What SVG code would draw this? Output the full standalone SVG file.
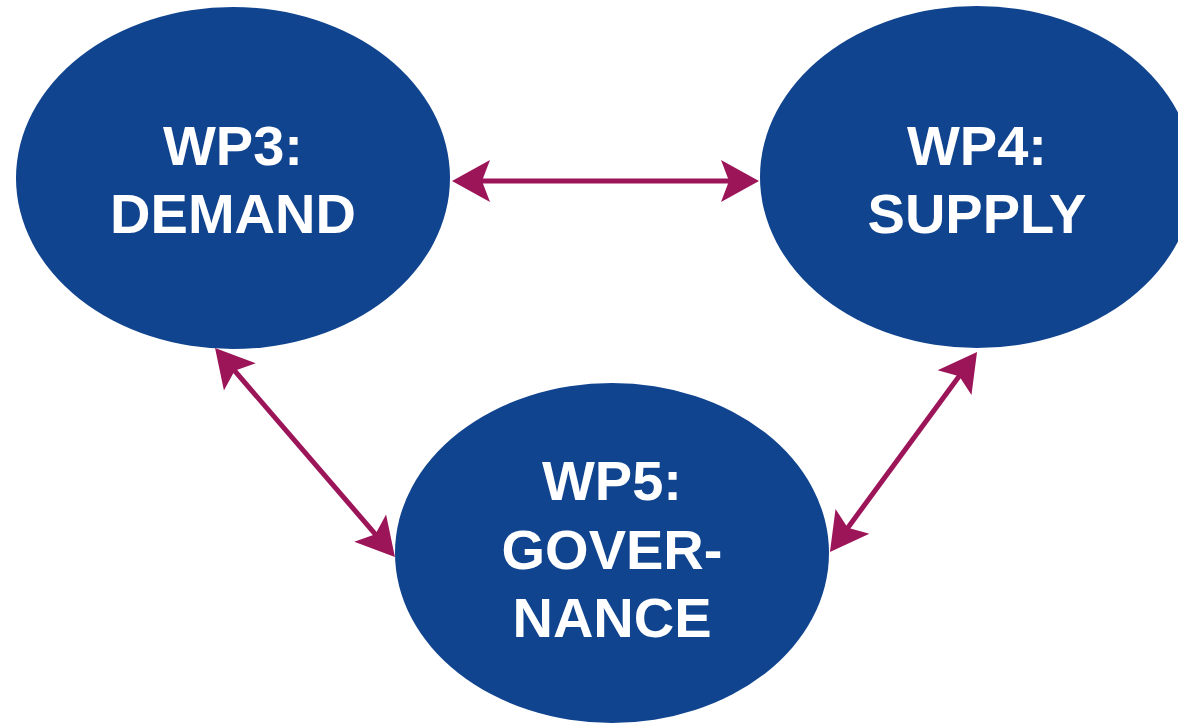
<svg xmlns="http://www.w3.org/2000/svg" width="1178" height="725" viewBox="0 0 1178 725">
<style>
.node{fill:#10448F}
.lbl{font-family:"Liberation Sans",Arial,sans-serif;font-weight:bold;font-size:56px;fill:#ffffff;text-anchor:middle}
.conn{stroke:#9C1559;stroke-width:5;fill:none;marker-start:url(#ah);marker-end:url(#ah)}
</style>
<defs>
<marker id="ah" markerUnits="userSpaceOnUse" viewBox="-20 -22 42 44" markerWidth="42" markerHeight="44" refX="0" refY="0" orient="auto-start-reverse">
<path d="M20,0 L-18,-21 L-10,0 L-18,21 Z" fill="#9C1559"/>
</marker>
</defs>
<rect width="1178" height="725" fill="#ffffff"/>
<g id="wp3">
<ellipse class="node" cx="233" cy="178" rx="217" ry="171"/>
<text class="lbl" x="233" y="165">WP3:</text>
<text class="lbl" x="233" y="233">DEMAND</text>
</g>
<g id="wp4">
<ellipse class="node" cx="977" cy="177" rx="217" ry="171"/>
<text class="lbl" x="977" y="165">WP4:</text>
<text class="lbl" x="977" y="233">SUPPLY</text>
</g>
<g id="wp5">
<ellipse class="node" cx="612" cy="553" rx="217" ry="170"/>
<text class="lbl" x="612" y="500">WP5:</text>
<text class="lbl" x="612" y="569">GOVER-</text>
<text class="lbl" x="612" y="637">NANCE</text>
</g>
<g id="connectors">
<line class="conn" x1="472" y1="181" x2="739" y2="181"/>
<line class="conn" x1="228.1" y1="363.2" x2="381.9" y2="541.8"/>
<line class="conn" x1="965.2" y1="368.1" x2="841.8" y2="535.9"/>
</g>
</svg>
